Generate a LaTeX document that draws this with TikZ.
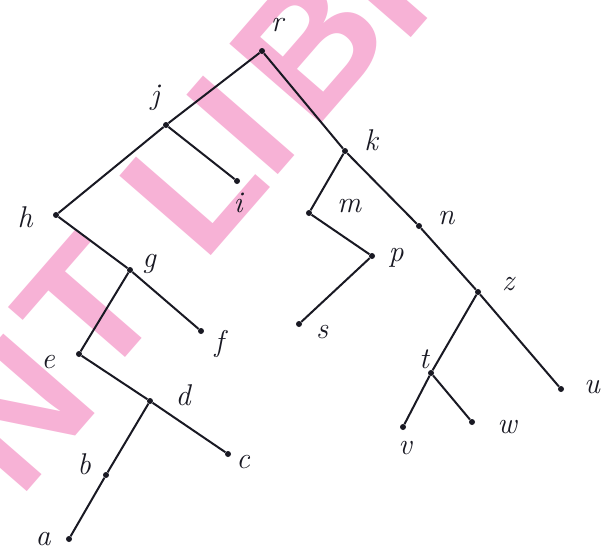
\documentclass[tikz,border=0pt]{standalone}
\usepackage{fontspec}
\newfontfamily\wmfont{Liberation Sans}
\definecolor{wmpink}{RGB}{247,178,214}
\definecolor{ink}{RGB}{25,25,35}
\begin{document}
\begin{tikzpicture}[x=1pt,y=1pt,
  dot/.style={circle,fill=ink,inner sep=0pt,minimum size=6pt},
  lab/.style={font=\fontsize{30}{32}\selectfont\itshape,text=ink,inner sep=0pt},
  edge/.style={draw=ink,line width=2pt},
  wm/.style={font=\wmfont\bfseries\fontsize{176}{176}\selectfont,text=wmpink,rotate=49,inner sep=0pt,anchor=center}]
\useasboundingbox (0,0) rectangle (608,-547);
\clip (0,0) rectangle (608,-547);
\fill[white] (0,0) rectangle (608,-547);
% watermark
\node[wm] (wN) at (16,-413) {N};
\node[wm] (wT) at (88,-308) {T};
\node[wm] (wL) at (193,-184) {L};
\node[wm] (wI) at (241,-125) {I};
\node[wm] (wB) at (309,-45) {B};
\node[wm] (wR) at (399,41) {R};
% tree nodes
\node[dot] (r) at (262,-51) {};
\node[dot] (j) at (166,-125) {};
\node[dot] (k) at (345,-151) {};
\node[dot] (i) at (237,-181) {};
\node[dot] (h) at (56,-215) {};
\node[dot] (m) at (309,-213) {};
\node[dot] (n) at (419,-226) {};
\node[dot] (p) at (372,-256) {};
\node[dot] (g) at (130,-270) {};
\node[dot] (f) at (201,-331) {};
\node[dot] (s) at (299,-324) {};
\node[dot] (z) at (478,-292) {};
\node[dot] (e) at (79,-354) {};
\node[dot] (t) at (431,-373) {};
\node[dot] (d) at (150,-401) {};
\node[dot] (u) at (561,-389) {};
\node[dot] (w) at (472,-422) {};
\node[dot] (v) at (403,-427) {};
\node[dot] (c) at (228,-454) {};
\node[dot] (b) at (106,-475) {};
\node[dot] (a) at (69,-539) {};
% edges
\draw[edge] (r) -- (j);
\draw[edge] (r) -- (k);
\draw[edge] (j) -- (h);
\draw[edge] (j) -- (i);
\draw[edge] (h) -- (g);
\draw[edge] (g) -- (f);
\draw[edge] (g) -- (e);
\draw[edge] (e) -- (d);
\draw[edge] (d) -- (c);
\draw[edge] (d) -- (b);
\draw[edge] (b) -- (a);
\draw[edge] (k) -- (m);
\draw[edge] (m) -- (p);
\draw[edge] (p) -- (s);
\draw[edge] (k) -- (n);
\draw[edge] (n) -- (z);
\draw[edge] (z) -- (u);
\draw[edge] (z) -- (t);
\draw[edge] (t) -- (v);
\draw[edge] (t) -- (w);
% labels
\node[lab] (lr) at (277,-25) {r};
\node[lab] (lj) at (155,-98) {j};
\node[lab] (lk) at (371,-140) {k};
\node[lab] (li) at (238,-203) {i};
\node[lab] (lh) at (25,-217) {h};
\node[lab] (lm) at (349,-206) {m};
\node[lab] (ln) at (446,-218) {n};
\node[lab] (lp) at (396,-258) {p};
\node[lab] (lg) at (149,-264) {g};
\node[lab] (lf) at (219,-344) {f};
\node[lab] (ls) at (322,-332) {s};
\node[lab] (lz) at (508,-284) {z};
\node[lab] (le) at (48,-362) {e};
\node[lab] (lt) at (424,-359) {t};
\node[lab] (ld) at (183,-395) {d};
\node[lab] (lu) at (592,-387) {u};
\node[lab] (lw) at (507,-427) {w};
\node[lab] (lv) at (405,-448) {v};
\node[lab] (lc) at (243,-462) {c};
\node[lab] (lb) at (84,-464) {b};
\node[lab] (la) at (43,-539) {a};
\end{tikzpicture}
\end{document}
